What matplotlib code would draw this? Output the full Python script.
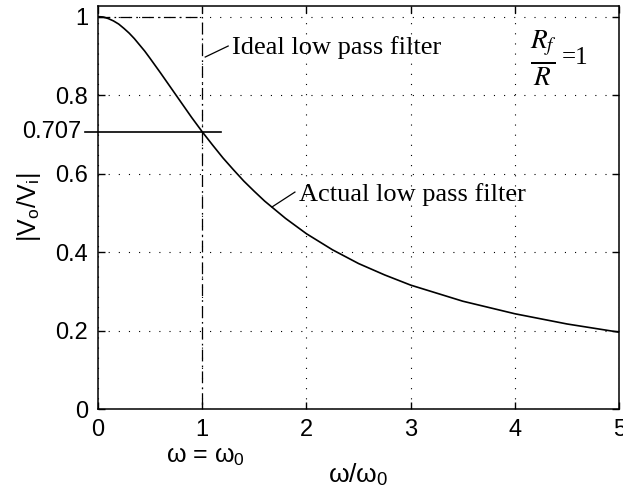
import matplotlib
matplotlib.use("Agg")
import matplotlib.pyplot as plt
import matplotlib.transforms as mtransforms

# frequency ratio w/w0 and magnitude |Vo/Vi|
w_ratio = [0.0, 0.05, 0.1, 0.15, 0.2, 0.25, 0.3, 0.35, 0.4, 0.45, 0.5, 0.6, 0.7,
           0.8, 0.9, 1.0, 1.1, 1.2, 1.3, 1.4, 1.5, 1.6, 1.8, 2.0, 2.25, 2.5,
           2.75, 3.0, 3.5, 4.0, 4.5, 5.0]
gain = [1.000, 0.999, 0.995, 0.989, 0.981, 0.970, 0.958, 0.944, 0.928, 0.912,
        0.894, 0.857, 0.819, 0.781, 0.743, 0.707, 0.673, 0.640, 0.610, 0.581,
        0.555, 0.530, 0.486, 0.447, 0.406, 0.371, 0.342, 0.316, 0.275, 0.243,
        0.217, 0.196]

# ideal (brick wall) filter corners
ideal_x = [0.0, 1.0, 1.0]
ideal_y = [1.0, 1.0, 0.0]

# the -3 dB marker line
half_power_x = [-0.125, 1.18]
half_power_y = [0.707, 0.707]

x_ticks = [0, 1, 2, 3, 4, 5]
y_ticks = [0, 0.2, 0.4, 0.6, 0.8, 1.0]
y_tick_labels = ["0", "0.2", "0.4", "0.6", "0.8", "1"]

plt.rcParams['font.family'] = ['Liberation Sans', 'DejaVu Sans']
plt.rcParams['mathtext.fontset'] = 'stix'
plt.rcParams['lines.scale_dashes'] = False

fig = plt.figure(figsize=(6.23, 4.99), dpi=100)
ax = fig.add_axes([0.157, 0.180, 0.837, 0.808])

# grid: dotted, black
ax.grid(True, color='black', linestyle=(0, (0.8, 6.5)), linewidth=0.8)

# actual filter response
ax.plot(w_ratio, gain, color='black', linewidth=1.2, zorder=3)
# ideal filter
ax.plot(ideal_x, ideal_y, color='black', linewidth=0.9,
        linestyle=(0, (8.5, 3, 1.2, 3)), zorder=3)
# 0.707 line reaching outside the axes
ax.plot(half_power_x, half_power_y, color='black', linewidth=1.2,
        clip_on=False, zorder=3)

ax.set_xlim(0, 5)
ax.set_ylim(0, 1.027)
ax.set_xticks(x_ticks)
ax.set_yticks(y_ticks)
ax.set_yticklabels(y_tick_labels)
ax.tick_params(direction='in', length=5, width=1, labelsize=17,
               top=True, right=True, pad=7)
for s in ax.spines.values():
    s.set_linewidth(1.1)

# 0.707 label at the end of the line
ax.text(-0.16, 0.707, "0.707", fontsize=17, ha='right', va='center')

# annotations
serif = ['Liberation Serif', 'DejaVu Serif']
ax.plot([1.03, 1.25], [0.897, 0.925], color='black', linewidth=0.9)
ax.text(1.29, 0.922, "Ideal low pass filter", family=serif, fontsize=19,
        va='center', ha='left')
ax.plot([1.67, 1.89], [0.515, 0.553], color='black', linewidth=0.9)
ax.text(1.93, 0.548, "Actual low pass filter", family=serif, fontsize=19,
        va='center', ha='left')
# Rf/R = 1
ax.text(4.14, 0.894, r"$\frac{R_f}{R}$", fontsize=28,
        va='center', ha='left')
ax.text(4.45, 0.894, "=1", fontsize=18, family=serif,
        va='center', ha='left')

trans = mtransforms.blended_transform_factory(ax.transData, ax.transAxes)
ax.text(1.03, -0.115, r"ω = ω$_\mathregular{0}$", fontsize=18,
        ha='center', va='center', transform=trans)

ax.set_xlabel(r"ω/ω$_\mathregular{0}$", fontsize=19, labelpad=15)
ax.set_ylabel(r"|V$_\mathregular{o}$/V$_\mathregular{i}$|", fontsize=18,
              labelpad=9)

fig.savefig("out.png", dpi=100)
